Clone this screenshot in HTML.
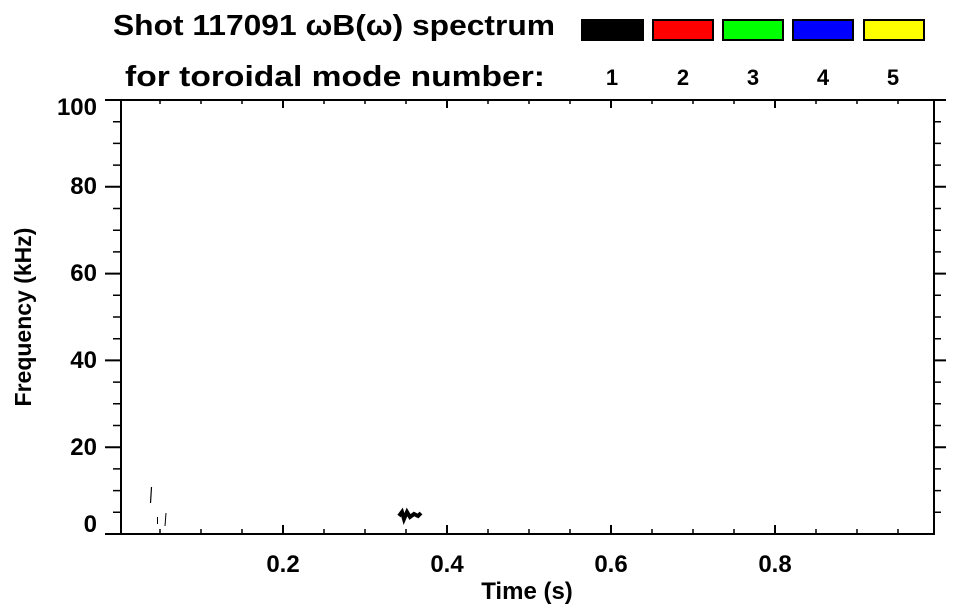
<!DOCTYPE html><html><head><style>body{margin:0;background:#fff}svg{display:block}text{font-family:"Liberation Sans",Arial,sans-serif;font-weight:bold;fill:#000}</style></head><body>
<svg width="963" height="615" viewBox="0 0 963 615" xmlns="http://www.w3.org/2000/svg">
<text x="113" y="35" font-size="29" textLength="442" lengthAdjust="spacingAndGlyphs">Shot 117091 ωB(ω) spectrum</text>
<text x="125" y="86" font-size="29" textLength="420" lengthAdjust="spacingAndGlyphs">for toroidal mode number:</text>
<g stroke="#000" stroke-width="2">
<rect x="582" y="20" width="61" height="20" fill="#000"/>
<rect x="653" y="20" width="60" height="20" fill="#f00"/>
<rect x="723" y="20" width="60" height="20" fill="#0f0"/>
<rect x="793" y="20" width="60" height="20" fill="#00f"/>
<rect x="864" y="20" width="60" height="20" fill="#ff0"/>
</g>
<g font-size="22" text-anchor="middle">
<text x="612" y="85">1</text><text x="683" y="85">2</text><text x="753" y="85">3</text><text x="823" y="85">4</text><text x="893" y="85">5</text>
</g>
<g stroke="#000" stroke-width="2" fill="none">
<rect x="121" y="100" width="813" height="434"/>
<path d="M105 100H121M105 186.8H121M105 273.6H121M105 360.4H121M105 447.2H121M105 534H121
M934 100H946M934 186.8H946M934 273.6H946M934 360.4H946M934 447.2H946"/>
<path stroke-width="1.5" d="M113 121.7H121M113 143.4H121M113 165.1H121M113 208.5H121M113 230.2H121M113 251.9H121M113 295.3H121M113 317H121M113 338.7H121M113 382.1H121M113 403.8H121M113 425.5H121M113 468.9H121M113 490.6H121M113 512.3H121
M934 121.7H941M934 143.4H941M934 165.1H941M934 208.5H941M934 230.2H941M934 251.9H941M934 295.3H941M934 317H941M934 338.7H941M934 382.1H941M934 403.8H941M934 425.5H941M934 468.9H941M934 490.6H941M934 512.3H941"/>
<path d="M283 534V525M447 534V525M611 534V525M775 534V525M283 100V108M447 100V108M611 100V108M775 100V108"/>
<path stroke-width="1.5" d="M160 534V529M201 534V529M242 534V529M324 534V529M365 534V529M406 534V529M488 534V529M529 534V529M570 534V529M652 534V529M693 534V529M734 534V529M816 534V529M857 534V529M898 534V529
M160 100V104M201 100V104M242 100V104M324 100V104M365 100V104M406 100V104M488 100V104M529 100V104M570 100V104M652 100V104M693 100V104M734 100V104M816 100V104M857 100V104M898 100V104"/>
</g>
<g stroke="#000" fill="none">
<path d="M151.5 487L150.5 503" stroke-width="1.2"/>
<path d="M157.5 517V524M166 513L165 526" stroke-width="1"/>
<path d="M399 516L402 512L404 519L407 512L410 517L414 514L418 516L421 513" stroke-width="4"/>
</g>
<g font-size="24" text-anchor="end">
<text x="97" y="115">100</text><text x="97" y="194">80</text><text x="97" y="281">60</text><text x="97" y="368">40</text><text x="97" y="455">20</text><text x="97" y="532">0</text>
</g>
<g font-size="24" text-anchor="middle">
<text x="283" y="572">0.2</text><text x="447" y="572">0.4</text><text x="611" y="572">0.6</text><text x="775" y="572">0.8</text>
<text x="527" y="599">Time (s)</text>
</g>
<text transform="translate(31 317) rotate(-90)" font-size="23" text-anchor="middle">Frequency (kHz)</text>
</svg></body></html>
